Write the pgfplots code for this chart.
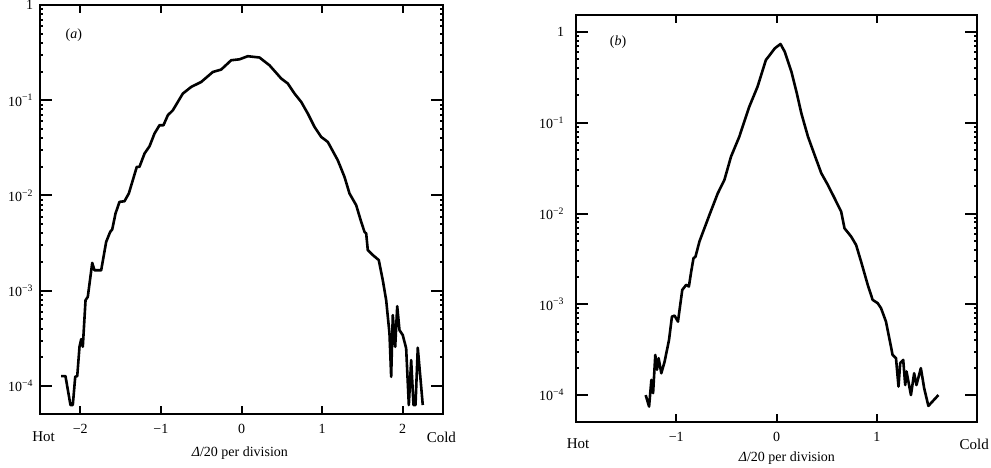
\documentclass[border=0pt]{standalone}
\usepackage{fontspec}
\setmainfont{Liberation Serif}
\usepackage{pgfplots}
\pgfplotsset{compat=1.18}
\usepackage{pgfplotstable}

\pgfplotstableread{
x y
-2.237 1.27e-4
-2.184 1.27e-4
-2.122 6.31e-5
-2.093 6.31e-5
-2.063 1.25e-4
-2.038 1.27e-4
-2.010 2.58e-4
-1.989 3.10e-4
-1.969 2.58e-4
-1.935 7.96e-4
-1.907 8.63e-4
-1.852 1.96e-3
-1.824 1.64e-3
-1.741 1.64e-3
-1.679 3.26e-3
-1.629 4.15e-3
-1.604 4.40e-3
-1.563 6.47e-3
-1.514 8.57e-3
-1.452 8.71e-3
-1.398 1.05e-2
-1.299 2.00e-2
-1.266 2.00e-2
-1.203 2.76e-2
-1.141 3.29e-2
-1.079 4.48e-2
-1.017 5.47e-2
-0.968 5.47e-2
-0.914 6.96e-2
-0.852 7.85e-2
-0.728 0.1175
-0.624 0.138
-0.500 0.1556
-0.356 0.198
-0.252 0.210
-0.128 0.263
-0.025 0.269
0.078 0.290
0.223 0.281
0.347 0.233
0.493 0.169
0.574 0.150
0.658 0.1175
0.741 0.0960
0.823 0.0725
0.906 0.0525
0.989 0.0412
1.071 0.0365
1.195 0.0234
1.278 0.01567
1.340 0.0105
1.423 7.91e-3
1.485 5.28e-3
1.526 4.15e-3
1.547 3.99e-3
1.567 2.67e-3
1.629 2.37e-3
1.703 2.10e-3
1.753 1.29e-3
1.795 7.96e-4
1.836 3.56e-4
1.857 1.25e-4
1.877 5.55e-4
1.907 2.58e-4
1.932 6.89e-4
1.960 3.86e-4
2.001 3.42e-4
2.043 2.48e-4
2.076 6.31e-5
2.105 1.87e-4
2.134 6.31e-5
2.159 6.31e-5
2.187 2.52e-4
2.249 6.31e-5
}\dataA

\pgfplotstableread{
x y
-1.305 1.00e-4
-1.271 7.47e-5
-1.248 1.47e-4
-1.231 1.05e-4
-1.209 2.77e-4
-1.192 1.90e-4
-1.176 2.55e-4
-1.149 1.74e-4
-1.116 2.34e-4
-1.072 4.06e-4
-1.043 7.32e-4
-1.017 7.51e-4
-0.983 6.45e-4
-0.940 1.44e-3
-0.901 1.64e-3
-0.874 1.57e-3
-0.851 2.29e-3
-0.828 3.22e-3
-0.808 3.35e-3
-0.769 4.91e-3
-0.719 6.89e-3
-0.669 9.66e-3
-0.586 1.67e-2
-0.520 2.34e-2
-0.454 4.23e-2
-0.371 7.03e-2
-0.272 0.150
-0.189 0.250
-0.106 0.492
-0.067 0.558
-0.017 0.661
0.040 0.738
0.082 0.607
0.149 0.365
0.199 0.220
0.248 0.127
0.314 0.0703
0.380 0.0442
0.447 0.0278
0.512 0.0207
0.579 0.01475
0.645 0.0105
0.678 6.89e-3
0.745 5.57e-3
0.794 4.51e-3
0.844 2.95e-3
0.910 1.64e-3
0.959 1.12e-3
1.009 1.03e-3
1.043 9.06e-4
1.092 6.45e-4
1.125 4.24e-4
1.158 2.77e-4
1.192 2.55e-4
1.217 1.24e-4
1.234 2.25e-4
1.264 2.44e-4
1.284 1.29e-4
1.297 1.82e-4
1.341 1.00e-4
1.373 1.74e-4
1.396 1.29e-4
1.440 1.98e-4
1.473 1.19e-4
1.515 7.60e-5
1.615 1.00e-4
}\dataB

\begin{document}
\fontsize{14pt}{16pt}\selectfont
\begin{tikzpicture}
\useasboundingbox (0pt,0pt) rectangle (991pt,467pt);

\begin{axis}[
  ymode=log, scale only axis, anchor=south west, clip=false,
  axis line style={line width=2.4pt},
  tick style={line width=2pt, black},
  major tick length=12pt,
  xtick style={/pgfplots/major tick length=8pt},
  minor tick num=0,
  xticklabel shift=5pt,
  at={(40pt,53pt)}, width=403pt, height=409pt,
  xmin=-2.5, xmax=2.5, ymin=5.08e-5, ymax=1,
  xtick={-2,-1,0,1,2}, xticklabels={−2,−1,0,1,2},
  ytick={1e-4,1e-3,1e-2,1e-1,1},
  yticklabels={10\textsuperscript{−4},10\textsuperscript{−3},10\textsuperscript{−2},10\textsuperscript{−1},1},
  yticklabel shift=2pt,
  xlabel={\textit{Δ}/20 per division},
  xlabel style={at={(axis description cs:0.496,-0.095)}, anchor=center},
]
\addplot[black, line width=2.6pt, line join=round] table[x=x,y=y] {\dataA};
\node[font=\fontsize{15pt}{17pt}\selectfont] at (rel axis cs:0.009,-0.056) {Hot};
\node[font=\fontsize{15pt}{17pt}\selectfont] at (rel axis cs:0.996,-0.056) {Cold};
\node at (rel axis cs:0.084,0.927) {(\textit{a})};
\end{axis}

\begin{axis}[
  ymode=log, scale only axis, anchor=south west, clip=false,
  axis line style={line width=2.4pt},
  tick style={line width=2pt, black},
  major tick length=12pt,
  xtick style={/pgfplots/major tick length=8pt},
  minor tick num=0,
  xticklabel shift=5pt,
  at={(576pt,45pt)}, width=401pt, height=407pt,
  xmin=-2, xmax=2, ymin=5.05e-5, ymax=1.54,
  xtick={-1,0,1}, xticklabels={−1,0,1},
  ytick={1e-4,1e-3,1e-2,1e-1,1},
  yticklabels={10\textsuperscript{−4},10\textsuperscript{−3},10\textsuperscript{−2},10\textsuperscript{−1},1},
  yticklabel shift=7pt,
  xlabel={\textit{Δ}/20 per division},
  xlabel style={at={(axis description cs:0.526,-0.088)}, anchor=center},
]
\addplot[black, line width=2.6pt, line join=round] table[x=x,y=y] {\dataB};
\node[font=\fontsize{15pt}{17pt}\selectfont] at (rel axis cs:0.005,-0.054) {Hot};
\node[font=\fontsize{15pt}{17pt}\selectfont] at (rel axis cs:0.993,-0.054) {Cold};
\node at (rel axis cs:0.105,0.934) {(\textit{b})};
\end{axis}
\end{tikzpicture}
\end{document}
